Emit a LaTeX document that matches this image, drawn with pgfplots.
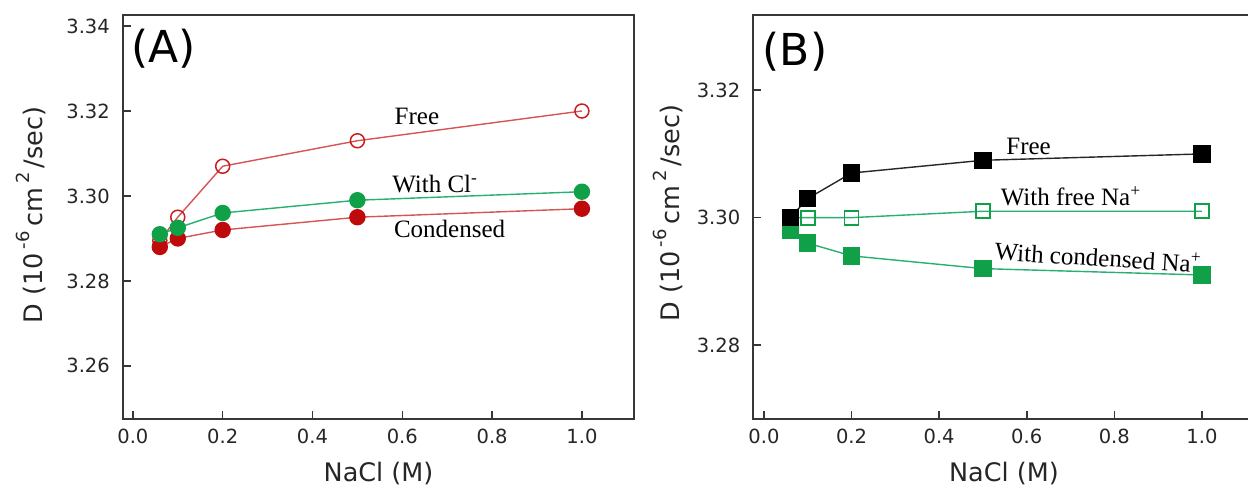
\documentclass[border=0pt]{standalone}
\usepackage{pgfplots}
\pgfplotsset{compat=1.18}
\usepackage{fontspec}
\setmainfont{DejaVu Sans}
\newfontfamily\serif{Liberation Serif}
\definecolor{redline}{RGB}{214,84,84}
\definecolor{redopen}{RGB}{200,30,30}
\definecolor{darkred}{RGB}{190,10,10}
\definecolor{gmark}{RGB}{16,160,72}
\definecolor{gline}{RGB}{40,175,115}
\definecolor{axgray}{RGB}{55,55,55}
\pgfplotsset{
  myaxis/.style={
    scale only axis, height=404pt,
    axis line style={axgray, line width=2pt},
    tick style={axgray, line width=1.6pt},
    tick align=inside, major tick length=8pt,
    xtick pos=left, ytick pos=left,
    xtick={0,0.2,0.4,0.6,0.8,1.0},
    xticklabels={0.0,0.2,0.4,0.6,0.8,1.0},
    tick label style={font=\fontsize{19.5}{21}\selectfont, text=black!85, inner sep=0pt},
    xticklabel shift=10pt, yticklabel shift=13pt,
    every axis x label/.style={at={(axis description cs:0.5,0)}, anchor=base, yshift=-62.5pt, font=\fontsize{25.5}{28}\selectfont, text=black!85},
    clip=false,
  },
}
\tikzset{
  ann/.style={font=\serif\fontsize{25}{28}\selectfont, anchor=center, inner sep=0pt},
  panel/.style={font=\fontsize{44}{48}\selectfont, anchor=center, inner sep=0pt},
}
\newcommand{\ylab}{D (10\,\raisebox{13pt}{\fontsize{18}{18}\selectfont -6}\,cm\,\raisebox{13pt}{\fontsize{18}{18}\selectfont 2}\,/sec)}
\begin{document}
\begin{tikzpicture}
\useasboundingbox (0,0) rectangle (1248pt,488pt);
% Panel A
\begin{axis}[myaxis, at={(123pt,69pt)}, anchor=south west, width=511pt,
  xmin=-0.022, xmax=1.116, ymin=3.2475, ymax=3.3426,
  ytick={3.26,3.28,3.30,3.32,3.34},
  yticklabels={3.26,3.28,3.30,3.32,3.34},
  xlabel={NaCl (M)},
  every axis y label/.style={at={(axis description cs:-0.1566,0.505)}, rotate=90, anchor=base, font=\fontsize{25.5}{28}\selectfont, text=black!85},
  ylabel={\ylab}]
\addplot[redline, line width=1.4pt, mark=o, mark size=7pt, mark options={draw=redopen, line width=1.5pt, fill=white}]
  coordinates {(0.06,3.2895) (0.1,3.295) (0.2,3.307) (0.5,3.313) (1.0,3.320)};
\addplot[redline, line width=1.4pt, mark=*, mark size=7.5pt, mark options={draw=darkred, fill=darkred}]
  coordinates {(0.06,3.288) (0.1,3.290) (0.2,3.292) (0.5,3.295) (1.0,3.297)};
\addplot[gline, line width=1.4pt, mark=*, mark size=7.5pt, mark options={draw=gmark, fill=gmark}]
  coordinates {(0.06,3.291) (0.1,3.2925) (0.2,3.296) (0.5,3.299) (1.0,3.301)};
\node[ann] at (axis cs:0.6325,3.31866) {Free};
\node[ann] at (axis cs:0.6726,3.30282) {With Cl\textsuperscript{-}};
\node[ann] at (axis cs:0.7053,3.29212) {Condensed};
\node[panel] at (axis cs:0.069,3.33471) {(A)};
\end{axis}
% Panel B
\begin{axis}[myaxis, at={(753.4pt,69pt)}, anchor=south west, width=501.1pt,
  xmin=-0.024, xmax=1.12, ymin=3.2684, ymax=3.3318,
  ytick={3.28,3.30,3.32},
  yticklabels={3.28,3.30,3.32},
  xlabel={NaCl (M)},
  every axis y label/.style={at={(axis description cs:-0.1465,0.51)}, rotate=90, anchor=base, font=\fontsize{25.5}{28}\selectfont, text=black!85},
  ylabel={\ylab}]
\addplot[gline, line width=1.4pt, mark=square, mark size=7pt, mark options={draw=gmark, line width=1.8pt, fill=white}]
  coordinates {(0.06,3.300) (0.1,3.300) (0.2,3.300) (0.5,3.301) (1.0,3.301)};
\addplot[gline, line width=1.4pt, mark=square*, mark size=8pt, mark options={draw=gmark, fill=gmark}]
  coordinates {(0.06,3.298) (0.1,3.296) (0.2,3.294) (0.5,3.292) (1.0,3.291)};
\addplot[black!85, line width=1.4pt, mark=square*, mark size=8pt, mark options={draw=black, fill=black}]
  coordinates {(0.06,3.300) (0.1,3.303) (0.2,3.307) (0.5,3.309) (1.0,3.310)};
\node[ann] at (axis cs:0.6043,3.31118) {Free};
\node[ann] at (axis cs:0.7005,3.30334) {With free Na\textsuperscript{+}};
\node[ann, rotate=-3.5] at (axis cs:0.7626,3.29382) {With condensed Na\textsuperscript{+}};
\node[panel] at (axis cs:0.0708,3.32598) {(B)};
\end{axis}
\end{tikzpicture}
\end{document}
